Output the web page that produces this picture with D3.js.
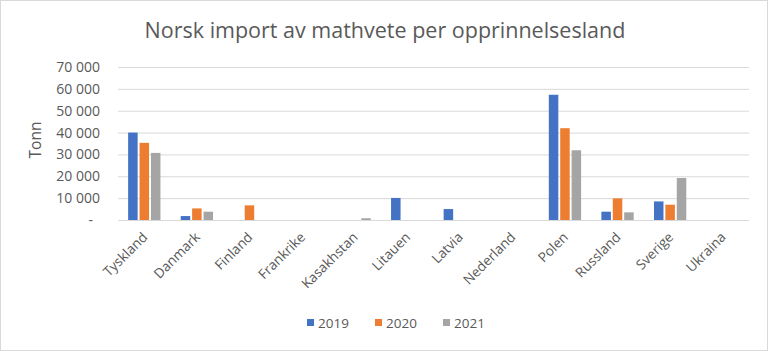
<!DOCTYPE html>
<html><head><meta charset="utf-8">
<script src="https://cdn.jsdelivr.net/npm/d3@7"></script>
<style>body{margin:0;background:#fff}svg{display:block}</style>
</head><body>
<script>
const categories = ["Tyskland","Danmark","Finland","Frankrike","Kasakhstan","Litauen","Latvia","Nederland","Polen","Russland","Sverige","Ukraina"];
const years = ["2019","2020","2021"];
const v2019 = [40000,1800,0,0,0,10100,5000,0,57300,3800,8500,0];
const v2020 = [35300,5300,6700,0,0,0,0,0,42000,9900,7000,0];
const v2021 = [30700,3800,0,0,800,0,0,0,31900,3500,19200,0];
const yTicks = [0,10000,20000,30000,40000,50000,60000,70000];
const colors = ["#4472C4","#ED7D31","#A5A5A5"];
const title = "Norsk import av mathvete per opprinnelsesland";
const yTitle = "Tonn";

const W=768,H=351;
const font = "'Open Sans', 'Liberation Sans', sans-serif";
const svg = d3.select("body").append("svg").attr("width",W).attr("height",H);
svg.append("rect").attr("x",0.5).attr("y",0.5).attr("width",W-1).attr("height",H-1).attr("fill","#fff").attr("stroke","#d9d9d9");

const x = d3.scaleBand().domain(categories).range([118,749]);
const y = d3.scaleLinear().domain([0,70000]).range([220,67]);
const series = [v2019,v2020,v2021];

// gridlines
svg.append("g").selectAll("line").data(yTicks).join("line")
  .attr("x1",118).attr("x2",749).attr("y1",d=>y(d)+0.5).attr("y2",d=>y(d)+0.5)
  .attr("stroke","#d9d9d9").attr("stroke-width",1);

// y tick labels
const fmt = d => d===0 ? "-" : d3.format(",")(d).replace(/,/g," ");
svg.append("g").selectAll("text").data(yTicks).join("text")
  .attr("x",d=>d===0?93:100).attr("y",d=>y(d)+5).attr("text-anchor","end")
  .attr("font-family",font).attr("font-size",14).attr("fill","#595959").text(fmt);

// bars
const bw = 9.5, step = 11.4;
series.forEach((vals,si)=>{
  svg.append("g").selectAll("rect").data(categories).join("rect")
    .attr("x",(c)=>x(c)+x.bandwidth()/2 + (si-1)*step - bw/2)
    .attr("y",(c,i)=>y(vals[i]))
    .attr("width",bw)
    .attr("height",(c,i)=>y(0)-y(vals[i]))
    .attr("fill",colors[si]);
});

// x labels
svg.append("g").selectAll("text").data(categories).join("text")
  .attr("transform",c=>`translate(${x(c)+x.bandwidth()/2+4},238) rotate(-45)`)
  .attr("text-anchor","end")
  .attr("font-family",font).attr("font-size",13.6).attr("fill","#595959").text(d=>d);

// title
svg.append("text").attr("x",385).attr("y",38).attr("text-anchor","middle")
  .attr("font-family",font).attr("font-size",21.5).attr("fill","#595959").text(title);

// y axis title
svg.append("text").attr("transform","translate(41,140) rotate(-90)").attr("text-anchor","middle")
  .attr("font-family",font).attr("font-size",15.5).attr("fill","#595959").text(yTitle);

// legend
const lg = svg.append("g");
const lx = [307,375,443];
years.forEach((yr,i)=>{
  lg.append("rect").attr("x",lx[i]).attr("y",319).attr("width",7).attr("height",7).attr("fill",colors[i]);
  lg.append("text").attr("x",lx[i]+11).attr("y",328).attr("font-family",font).attr("font-size",13.5).attr("fill","#595959").text(yr);
});
</script>
</body></html>
